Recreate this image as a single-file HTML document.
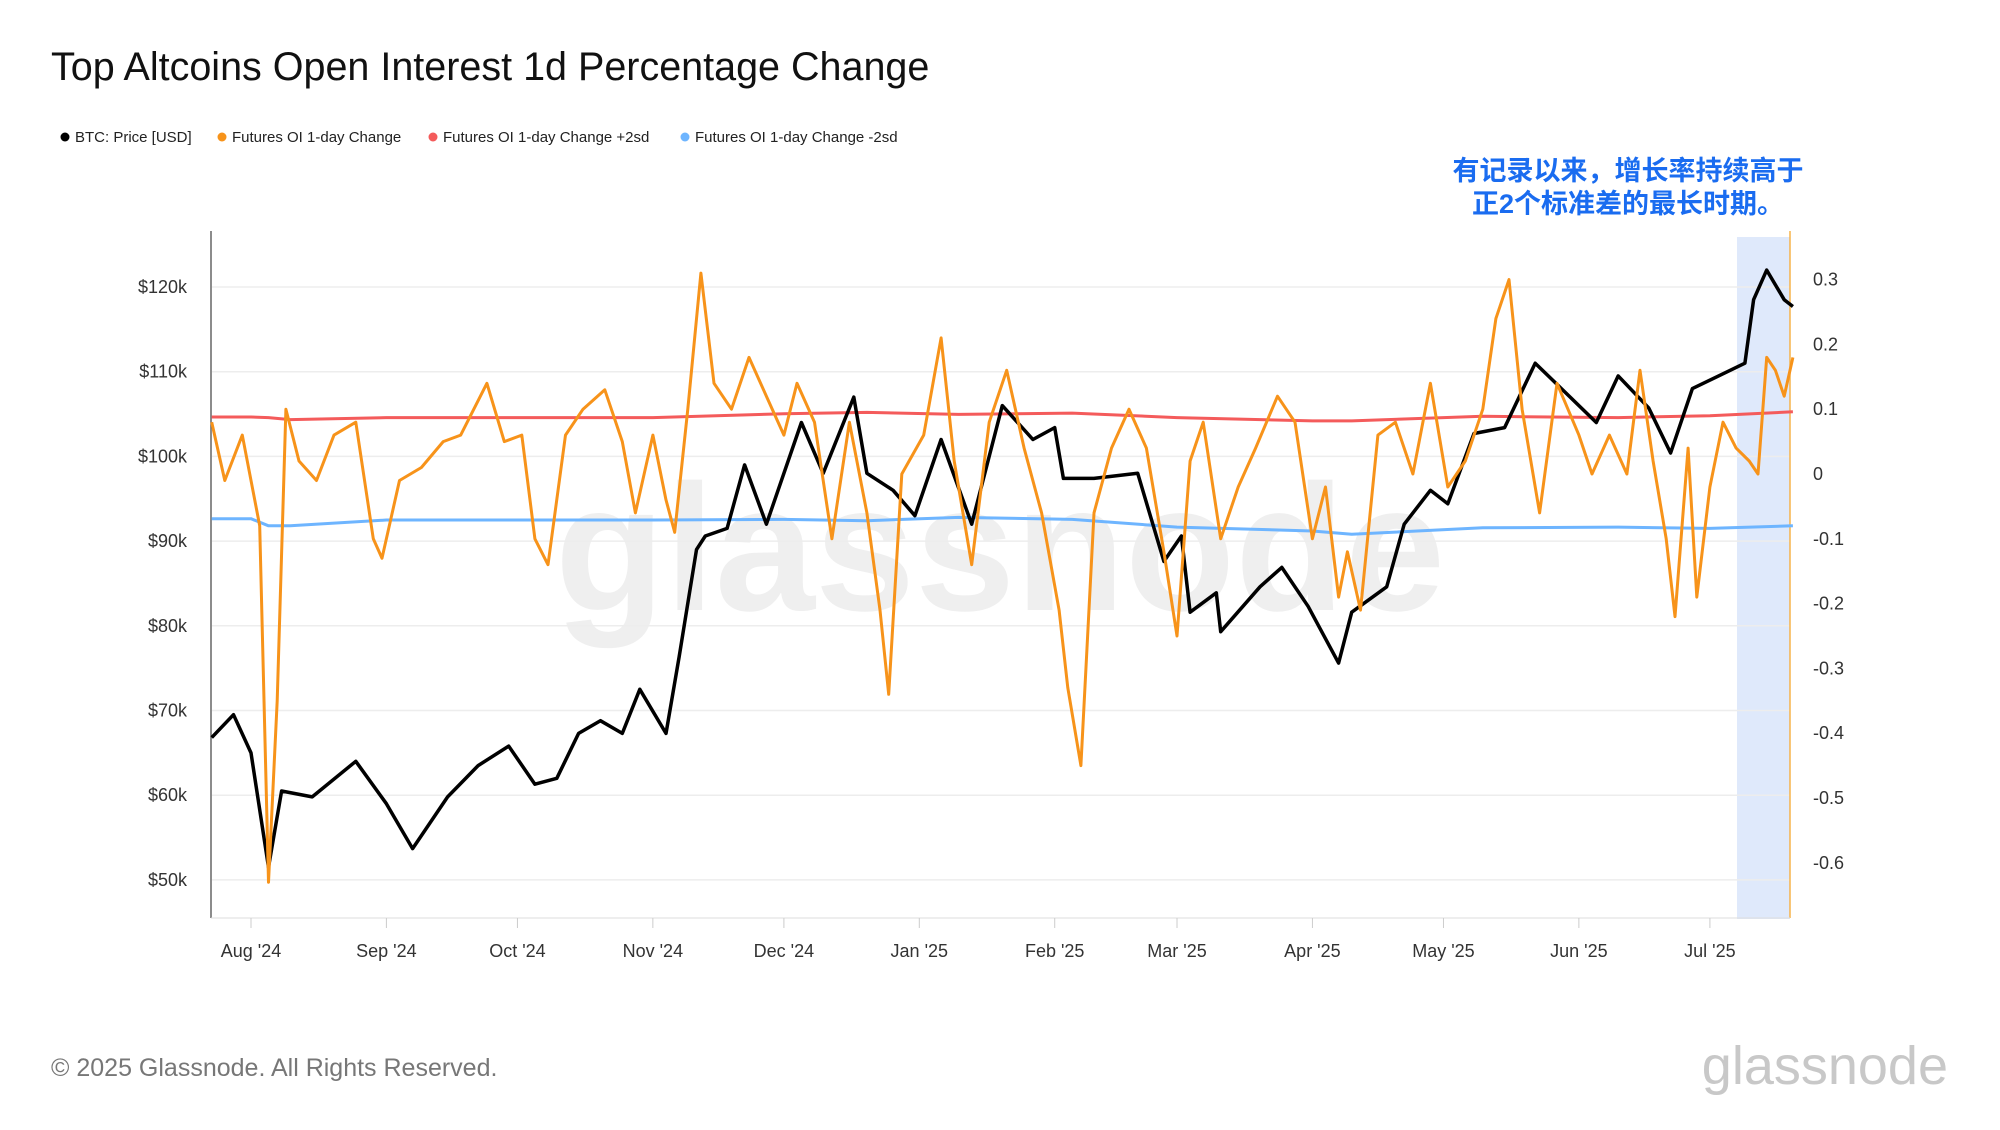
<!DOCTYPE html>
<html><head><meta charset="utf-8"><style>
body{margin:0;background:#fff;width:2000px;height:1125px;overflow:hidden;font-family:"Liberation Sans","Noto Sans CJK SC",sans-serif}
</style></head><body>
<svg id="chart" width="2000" height="1125" xmlns="http://www.w3.org/2000/svg" font-family="Liberation Sans, Noto Sans CJK SC, sans-serif">
<text x="51" y="80" font-size="39.5" fill="#111">Top Altcoins Open Interest 1d Percentage Change</text>
<g font-size="15" fill="#222">
<g><circle cx="65" cy="137" r="4.5" fill="#000"/><text x="75" y="142">BTC: Price [USD]</text></g>
<g><circle cx="222" cy="137" r="4.5" fill="#f7931a"/><text x="232" y="142">Futures OI 1-day Change</text></g>
<g><circle cx="433" cy="137" r="4.5" fill="#f45b5b"/><text x="443" y="142">Futures OI 1-day Change +2sd</text></g>
<g><circle cx="685" cy="137" r="4.5" fill="#6eb5ff"/><text x="695" y="142">Futures OI 1-day Change -2sd</text></g>
</g>
<text x="1000" y="610" font-size="180" fill="#efefef" text-anchor="middle" font-weight="bold">glassnode</text>
<rect x="1737" y="237" width="53" height="682" fill="#dfe9fb"/>
<g id="grid"></g>
<line x1="211" y1="231" x2="211" y2="918" stroke="#666" stroke-width="1.5"/>
<line x1="1790" y1="231" x2="1790" y2="918" stroke="#f7b34a" stroke-width="1.5"/>
<line x1="211" y1="918" x2="1790" y2="918" stroke="#ddd" stroke-width="1"/>
<g id="series"></g>
<g id="axes" font-size="18" fill="#333"></g>
<text x="1628" y="180" font-size="27" font-weight="bold" fill="#1a6cf0" text-anchor="middle">有记录以来，增长率持续高于</text>
<text x="1628" y="213" font-size="27" font-weight="bold" fill="#1a6cf0" text-anchor="middle">正2个标准差的最长时期。</text>
<text x="51" y="1076" font-size="25" fill="#777">© 2025 Glassnode. All Rights Reserved.</text>
<text x="1948" y="1084" font-size="54" fill="#c8c8c8" text-anchor="end">glassnode</text>
</svg>
<script>
const btcDates=["2024-07-23","2024-07-28","2024-08-01","2024-08-05","2024-08-08","2024-08-15","2024-08-25","2024-09-01","2024-09-07","2024-09-15","2024-09-22","2024-09-29","2024-10-05","2024-10-10","2024-10-15","2024-10-20","2024-10-25","2024-10-29","2024-11-04","2024-11-07","2024-11-11","2024-11-13","2024-11-18","2024-11-22","2024-11-27","2024-12-01","2024-12-05","2024-12-10","2024-12-17","2024-12-20","2024-12-26","2024-12-31","2025-01-06","2025-01-13","2025-01-20","2025-01-27","2025-02-01","2025-02-03","2025-02-10","2025-02-20","2025-02-26","2025-03-02","2025-03-04","2025-03-10","2025-03-11","2025-03-20","2025-03-25","2025-03-31","2025-04-07","2025-04-10","2025-04-18","2025-04-22","2025-04-28","2025-05-02","2025-05-08","2025-05-15","2025-05-22","2025-05-28","2025-06-05","2025-06-10","2025-06-17","2025-06-22","2025-06-27","2025-07-03","2025-07-09","2025-07-11","2025-07-14","2025-07-18","2025-07-20"];
const btcPrice=[66.8,69.5,65,51.5,60.5,59.8,64,59,53.7,59.8,63.5,65.8,61.3,62,67.3,68.8,67.3,72.5,67.3,76.3,89,90.6,91.5,99,92,98,104,98,107,98,96,93,102,92,106,102,103.4,97.4,97.4,98,87.6,90.6,81.6,83.9,79.3,84.6,86.9,82.3,75.6,81.6,84.6,92,96,94.4,102.7,103.4,111,108,104,109.5,105.7,100.4,108,109.5,111,118.5,122,118.5,117.7];
const oiDates=["2024-07-23","2024-07-26","2024-07-30","2024-08-03","2024-08-05","2024-08-07","2024-08-09","2024-08-12","2024-08-16","2024-08-20","2024-08-25","2024-08-29","2024-08-31","2024-09-04","2024-09-09","2024-09-14","2024-09-18","2024-09-24","2024-09-28","2024-10-02","2024-10-05","2024-10-08","2024-10-12","2024-10-16","2024-10-21","2024-10-25","2024-10-28","2024-11-01","2024-11-04","2024-11-06","2024-11-09","2024-11-12","2024-11-15","2024-11-19","2024-11-23","2024-11-27","2024-12-01","2024-12-04","2024-12-08","2024-12-12","2024-12-16","2024-12-20","2024-12-23","2024-12-25","2024-12-28","2025-01-02","2025-01-06","2025-01-09","2025-01-13","2025-01-17","2025-01-21","2025-01-25","2025-01-29","2025-02-02","2025-02-04","2025-02-07","2025-02-10","2025-02-14","2025-02-18","2025-02-22","2025-02-26","2025-03-01","2025-03-04","2025-03-07","2025-03-11","2025-03-15","2025-03-19","2025-03-24","2025-03-28","2025-04-01","2025-04-04","2025-04-07","2025-04-09","2025-04-12","2025-04-16","2025-04-20","2025-04-24","2025-04-28","2025-05-02","2025-05-06","2025-05-10","2025-05-13","2025-05-16","2025-05-19","2025-05-23","2025-05-27","2025-06-01","2025-06-04","2025-06-08","2025-06-12","2025-06-15","2025-06-18","2025-06-21","2025-06-23","2025-06-26","2025-06-28","2025-07-01","2025-07-04","2025-07-07","2025-07-10","2025-07-12","2025-07-14","2025-07-16","2025-07-18","2025-07-20"];
const oiChange=[0.08,-0.01,0.06,-0.08,-0.63,-0.35,0.10,0.02,-0.01,0.06,0.08,-0.10,-0.13,-0.01,0.01,0.05,0.06,0.14,0.05,0.06,-0.10,-0.14,0.06,0.10,0.13,0.05,-0.06,0.06,-0.04,-0.09,0.10,0.31,0.14,0.10,0.18,0.12,0.06,0.14,0.08,-0.10,0.08,-0.06,-0.21,-0.34,0.00,0.06,0.21,0.02,-0.14,0.08,0.16,0.04,-0.06,-0.21,-0.33,-0.45,-0.06,0.04,0.10,0.04,-0.12,-0.25,0.02,0.08,-0.10,-0.02,0.04,0.12,0.08,-0.10,-0.02,-0.19,-0.12,-0.21,0.06,0.08,0.00,0.14,-0.02,0.02,0.10,0.24,0.30,0.10,-0.06,0.14,0.06,0.00,0.06,0.00,0.16,0.02,-0.10,-0.22,0.04,-0.19,-0.02,0.08,0.04,0.02,0.00,0.18,0.16,0.12,0.18];
const bandDates=["2024-07-23","2024-08-01","2024-08-05","2024-08-10","2024-09-01","2024-11-01","2024-12-01","2024-12-20","2025-01-10","2025-02-05","2025-03-01","2025-04-01","2025-04-10","2025-05-10","2025-06-10","2025-07-01","2025-07-20"];
const plus2sd=[0.088,0.088,0.087,0.084,0.087,0.087,0.093,0.095,0.092,0.094,0.087,0.082,0.082,0.089,0.087,0.090,0.096];
const minus2sd=[-0.069,-0.069,-0.080,-0.080,-0.071,-0.071,-0.070,-0.072,-0.067,-0.070,-0.082,-0.088,-0.093,-0.083,-0.082,-0.084,-0.080];
const leftTicks=[50,60,70,80,90,100,110,120];
const rightTicks=[-0.6,-0.5,-0.4,-0.3,-0.2,-0.1,0,0.1,0.2,0.3];
const monthLabels=["Aug '24","Sep '24","Oct '24","Nov '24","Dec '24","Jan '25","Feb '25","Mar '25","Apr '25","May '25","Jun '25","Jul '25"];
const monthDates=["2024-08-01","2024-09-01","2024-10-01","2024-11-01","2024-12-01","2025-01-01","2025-02-01","2025-03-01","2025-04-01","2025-05-01","2025-06-01","2025-07-01"];

const NS="http://www.w3.org/2000/svg";
const t0=Date.UTC(2024,7,1);
function xd(s){const p=s.split('-');const d=(Date.UTC(+p[0],+p[1]-1,+p[2])-t0)/86400000;return 251+d*4.368;}
function yL(v){return 287+(120-v)*84.7/10;}
function yR(v){return 474-v*648;}
function el(tag,attrs,parent){const e=document.createElementNS(NS,tag);for(const k in attrs)e.setAttribute(k,attrs[k]);parent.appendChild(e);return e;}
const grid=document.getElementById('grid'),series=document.getElementById('series'),axes=document.getElementById('axes');
leftTicks.forEach(v=>{
  const g=el('line',{x1:212,x2:1790,y1:yL(v),y2:yL(v),stroke:'#ededed','stroke-width':1.5},grid);
  
  
  const t=el('text',{x:187,y:yL(v)+6,'text-anchor':'end'},axes);t.textContent='$'+v+'k';
  
  
});
rightTicks.forEach(v=>{
  const t=el('text',{x:1813,y:yR(v)+6},axes);t.textContent=(v===0?'0':v.toFixed(1));
  
  
});
monthDates.forEach((d,i)=>{
  const x=xd(d);
  const tk=el('line',{x1:x,x2:x,y1:918,y2:928,stroke:'#ccc'},axes);
  
  
  const t=el('text',{x:x,y:957,'text-anchor':'middle'},axes);t.textContent=monthLabels[i];
  
  
});
function line(dates,vals,yf,color,w,name){
  const d=dates.map((s,i)=>(i?'L':'M')+xd(s).toFixed(1)+','+yf(vals[i]).toFixed(1)).join('');
  const p=el('path',{d:d,fill:'none',stroke:color,'stroke-width':w,'stroke-linejoin':'round'},series);
  
  
}
line(bandDates,minus2sd,yR,'#6eb5ff',3,'minus-2sd-line');
line(bandDates,plus2sd,yR,'#f45b5b',3,'plus-2sd-line');
line(btcDates,btcPrice,yL,'#000',3.5,'btc-price-line');
line(oiDates,oiChange,yR,'#f7931a',3,'oi-change-line');
</script>
</body></html>
